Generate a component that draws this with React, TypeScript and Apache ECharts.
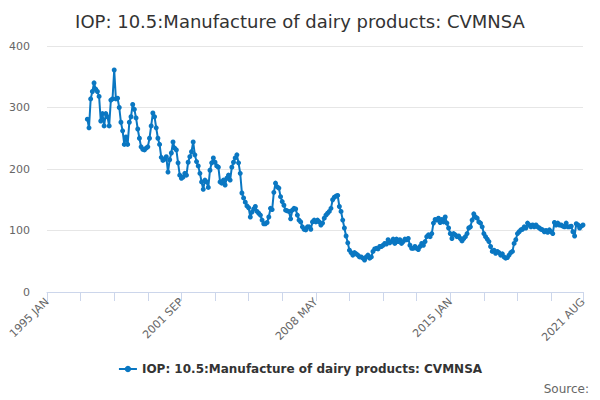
import React, { useEffect, useRef } from 'react';
import * as echarts from 'echarts';

const title = 'IOP: 10.5:Manufacture of dairy products: CVMNSA';
const monthNames = ['JAN', 'FEB', 'MAR', 'APR', 'MAY', 'JUN', 'JUL', 'AUG', 'SEP', 'OCT', 'NOV', 'DEC'];
const firstYear = 1995;
const monthCount = 320; // 1995 JAN .. 2021 AUG
const firstObserved = 24; // series begins 1997 JAN

// monthly values, 1997 JAN onwards
const v1997 = [281, 267, 314, 326, 340, 330, 326, 318, 278, 290, 270, 290];
const v1998 = [285, 270, 312, 314, 361, 314, 315, 300, 276, 262, 240, 252];
const v1999 = [240, 276, 285, 305, 297, 283, 265, 250, 236, 232, 231, 234];
const v2000 = [236, 250, 270, 291, 285, 267, 250, 240, 219, 214, 216, 220];
const v2001 = [195, 215, 226, 244, 234, 231, 210, 190, 185, 187, 193, 190];
const v2002 = [211, 220, 228, 244, 223, 212, 205, 193, 179, 167, 182, 179];
const v2003 = [170, 198, 210, 218, 211, 205, 203, 179, 177, 182, 174, 185];
const v2004 = [190, 182, 203, 211, 218, 223, 210, 193, 161, 153, 146, 140];
const v2005 = [137, 122, 130, 135, 139, 131, 128, 125, 117, 111, 111, 113];
const v2006 = [122, 136, 134, 162, 177, 171, 169, 155, 147, 141, 133, 132];
const v2007 = [131, 119, 133, 136, 135, 125, 117, 114, 106, 102, 101, 106];
const v2008 = [106, 102, 114, 117, 114, 117, 114, 109, 112, 120, 125, 128];
const v2009 = [131, 136, 150, 154, 156, 157, 139, 131, 117, 104, 91, 80];
const v2010 = [68, 64, 60, 64, 62, 60, 57, 57, 55, 52, 57, 60];
const v2011 = [55, 57, 66, 70, 71, 70, 74, 74, 76, 79, 78, 85];
const v2012 = [80, 82, 86, 79, 86, 82, 85, 79, 82, 86, 85, 87];
const v2013 = [76, 71, 71, 74, 71, 69, 74, 79, 76, 82, 90, 93];
const v2014 = [90, 95, 112, 118, 117, 120, 113, 118, 114, 122, 112, 104];
const v2015 = [95, 87, 95, 93, 90, 91, 87, 83, 87, 90, 95, 104];
const v2016 = [106, 117, 127, 122, 120, 114, 112, 106, 95, 90, 86, 82];
const v2017 = [74, 66, 68, 63, 66, 64, 60, 62, 57, 55, 56, 60];
const v2018 = [64, 66, 79, 85, 95, 98, 101, 102, 106, 104, 112, 109];
const v2019 = [106, 109, 106, 109, 106, 104, 102, 101, 98, 100, 97, 101];
const v2020 = [98, 95, 113, 109, 112, 109, 109, 107, 106, 112, 106, 106];
const v2021 = [107, 98, 91, 111, 109, 104, 107, 109];

const yTicks = [0, 100, 200, 300, 400];

const App: React.FC = () => {
  const chartRef = useRef<HTMLDivElement>(null);

  useEffect(() => {
    const chart = echarts.init(chartRef.current!, undefined, { renderer: 'svg' });

    const categories: string[] = [];
    for (let i = 0; i < monthCount; i++) {
      categories.push(`${firstYear + Math.floor(i / 12)} ${monthNames[i % 12]}`);
    }
    const observed = [
      ...v1997, ...v1998, ...v1999, ...v2000, ...v2001, ...v2002, ...v2003, ...v2004,
      ...v2005, ...v2006, ...v2007, ...v2008, ...v2009, ...v2010, ...v2011, ...v2012,
      ...v2013, ...v2014, ...v2015, ...v2016, ...v2017, ...v2018, ...v2019, ...v2020, ...v2021,
    ];
    const data: (number | null)[] = categories.map((_, i) =>
      i < firstObserved ? null : observed[i - firstObserved] ?? null
    );
    const last = monthCount - 1;

    chart.setOption({
      animation: false,
      textStyle: { fontFamily: 'DejaVu Sans' },
      title: {
        text: title,
        left: 'center',
        top: 7,
        textStyle: { fontSize: 18, fontWeight: 'normal', color: '#333333' },
      },
      legend: {
        data: [title],
        bottom: 20,
        left: 'center',
        itemWidth: 18,
        itemHeight: 8,
        textStyle: { fontSize: 12, fontWeight: 'bold', color: '#333333' },
      },
      graphic: [
        {
          type: 'text',
          right: 11,
          top: 383,
          style: { text: 'Source:', fontSize: 12, fill: '#666666', fontFamily: 'DejaVu Sans' },
        },
      ],
      grid: { left: 47, right: 17, top: 46, bottom: 108 },
      xAxis: [
        {
          type: 'category',
          boundaryGap: false,
          data: categories,
          axisLine: { lineStyle: { color: '#ccd6eb' } },
          axisTick: { show: false },
          axisLabel: {
            rotate: 45,
            fontSize: 11,
            color: '#666666',
            margin: 8,
            interval: (i: number) => i % 80 === 0 || i === last,
          },
          splitLine: { show: false },
        },
        {
          // tick marks every 20 months, on the same span as the categories
          type: 'value',
          position: 'bottom',
          min: 0,
          max: last,
          interval: 20,
          axisLine: { show: false },
          axisLabel: { show: false },
          splitLine: { show: false },
          axisTick: { show: true, length: 9, lineStyle: { color: '#ccd6eb', width: 1 } },
        },
      ],
      yAxis: {
        type: 'value',
        min: yTicks[0],
        max: yTicks[yTicks.length - 1],
        interval: 100,
        axisLine: { show: false },
        axisTick: { show: false },
        axisLabel: { fontSize: 11, color: '#666666', margin: 17 },
        splitLine: { lineStyle: { color: '#e6e6e6' } },
      },
      series: [
        {
          name: title,
          type: 'line',
          data,
          symbol: 'circle',
          symbolSize: 5,
          showAllSymbol: true,
          itemStyle: { color: '#0a77c2' },
          lineStyle: { color: '#0a77c2', width: 2 },
        },
      ],
    });

    return () => {
      chart.dispose();
    };
  }, []);

  return (
    <div
      ref={chartRef}
      style={{ position: 'absolute', left: 0, top: 0, width: '600px', height: '400px' }}
    />
  );
};

export default App;
